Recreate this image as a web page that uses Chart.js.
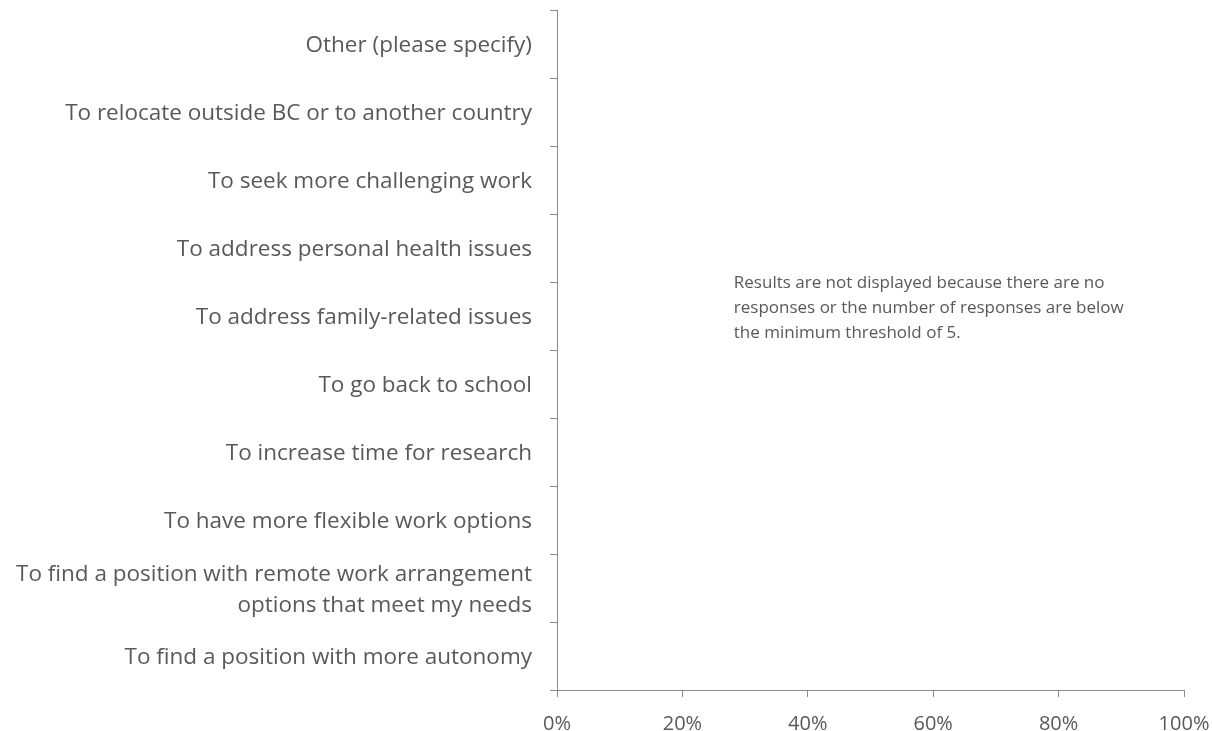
<!DOCTYPE html>
<html>
<head>
<meta charset="utf-8">
<script src="https://cdn.jsdelivr.net/npm/chart.js@4"></script>
<style>
  html, body { margin: 0; padding: 0; background: #fff; }
  #wrap { width: 1212px; height: 731px; position: relative; }
</style>
</head>
<body>
<div id="wrap"><canvas id="graficoMotivos"></canvas></div>
<script>
// categorias (de cima para baixo)
const categorias = [
    'Other (please specify)',
    'To relocate outside BC or to another country',
    'To seek more challenging work',
    'To address personal health issues',
    'To address family-related issues',
    'To go back to school',
    'To increase time for research',
    'To have more flexible work options',
    ['To find a position with remote work arrangement', 'options that meet my needs'],
    'To find a position with more autonomy'
];
// sem resultados: abaixo do limite mínimo de respostas
const valores = [null, null, null, null, null, null, null, null, null, null];
const ticksX = [0, 20, 40, 60, 80, 100];
const aviso = [
    'Results are not displayed because there are no',
    'responses or the number of responses are below',
    'the minimum threshold of 5.'
];

const corTexto = '#595959';
const corEixo = '#8c8c8c';

const pluginAviso = {
    id: 'aviso',
    afterDraw(chart) {
        const ctx = chart.ctx;
        const area = chart.chartArea;
        ctx.save();
        ctx.fillStyle = corTexto;
        ctx.font = '17px "Open Sans"';
        ctx.textBaseline = 'middle';
        const x0 = area.left + (area.right - area.left) * 0.282;
        const y0 = area.top + (area.bottom - area.top) * 0.401;
        aviso.forEach(function (linha, i) {
            ctx.fillText(linha, x0, y0 + i * 25);
        });
        ctx.restore();
    }
};

const ctx = document.getElementById('graficoMotivos');
new Chart(ctx.getContext('2d'), {
    type: 'bar',
    data: {
        labels: categorias,
        datasets: [{
            label: 'Responses',
            data: valores,
            backgroundColor: '#4472c4'
        }]
    },
    options: {
        responsive: true,
        maintainAspectRatio: false,
        animation: false,
        indexAxis: 'y',
        layout: { padding: { top: 10, right: 28, left: 0, bottom: 0 } },
        plugins: {
            legend: { display: false },
            tooltip: { enabled: false }
        },
        scales: {
            x: {
                min: 0,
                max: 100,
                afterBuildTicks: function (scale) {
                    scale.ticks = ticksX.map(function (v) { return { value: v }; });
                },
                afterFit: function (scale) {
                    scale.height = 41;
                    scale.paddingLeft = 0;
                    scale.paddingRight = 0;
                },
                border: { color: corEixo, width: 1 },
                grid: { drawOnChartArea: false, drawTicks: true, tickLength: 7, color: corEixo },
                ticks: {
                    color: corTexto,
                    padding: 15,
                    font: { family: '"Open Sans"', size: 20 },
                    callback: function (v) { return v + '%'; }
                }
            },
            y: {
                afterFit: function (scale) {
                    scale.width = 557;
                    scale.paddingTop = 0;
                    scale.paddingBottom = 0;
                },
                border: { color: corEixo, width: 1 },
                grid: { drawOnChartArea: false, drawTicks: true, tickLength: 7, color: corEixo, offset: true },
                ticks: {
                    color: corTexto,
                    padding: 18,
                    labelOffset: 2,
                    font: { family: '"Open Sans"', size: 22.5, lineHeight: 1.38 }
                }
            }
        }
    },
    plugins: [pluginAviso]
});
</script>
</body>
</html>
